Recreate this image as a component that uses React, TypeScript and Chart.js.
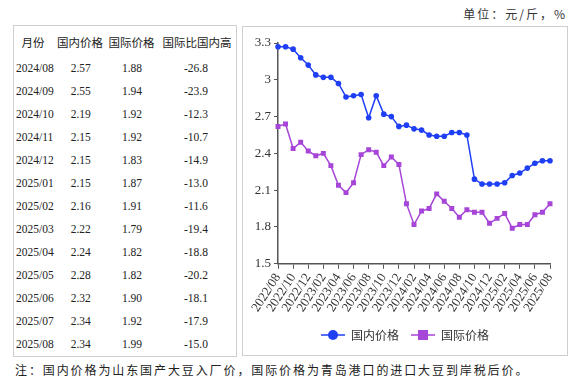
import React, { useEffect, useRef } from 'react';
import { Chart, registerables } from 'chart.js';
Chart.register(...registerables);

const months = [
  '2022/08', '2022/09', '2022/10', '2022/11', '2022/12',
  '2023/01', '2023/02', '2023/03', '2023/04', '2023/05', '2023/06', '2023/07', '2023/08', '2023/09', '2023/10', '2023/11', '2023/12',
  '2024/01', '2024/02', '2024/03', '2024/04', '2024/05', '2024/06', '2024/07', '2024/08', '2024/09', '2024/10', '2024/11', '2024/12',
  '2025/01', '2025/02', '2025/03', '2025/04', '2025/05', '2025/06', '2025/07', '2025/08',
];
const domestic = [3.27, 3.27, 3.25, 3.18, 3.12, 3.04, 3.02, 3.02, 2.97, 2.86, 2.87, 2.88, 2.69, 2.87, 2.72, 2.70, 2.62, 2.63, 2.60, 2.59, 2.55, 2.54, 2.54, 2.57, 2.57, 2.55, 2.19, 2.15, 2.15, 2.15, 2.16, 2.22, 2.24, 2.28, 2.32, 2.34, 2.34];
const international = [2.62, 2.64, 2.44, 2.49, 2.42, 2.38, 2.40, 2.30, 2.14, 2.08, 2.16, 2.39, 2.43, 2.41, 2.30, 2.37, 2.31, 1.99, 1.82, 1.93, 1.95, 2.07, 2.01, 1.95, 1.88, 1.94, 1.92, 1.92, 1.83, 1.87, 1.91, 1.79, 1.82, 1.82, 1.90, 1.92, 1.99];
const seriesNames = ['国内价格', '国际价格'];

const tableHeaders = ['月份', '国内价格', '国际价格', '国际比国内高'];
const tableMonths = ['2024/08', '2024/09', '2024/10', '2024/11', '2024/12', '2025/01', '2025/02', '2025/03', '2025/04', '2025/05', '2025/06', '2025/07', '2025/08'];
const tableDomestic = ['2.57', '2.55', '2.19', '2.15', '2.15', '2.15', '2.16', '2.22', '2.24', '2.28', '2.32', '2.34', '2.34'];
const tableIntl = ['1.88', '1.94', '1.92', '1.92', '1.83', '1.87', '1.91', '1.79', '1.82', '1.82', '1.90', '1.92', '1.99'];
const tableDiff = ['-26.8', '-23.9', '-12.3', '-10.7', '-14.9', '-13.0', '-11.6', '-19.4', '-18.8', '-20.2', '-18.1', '-17.9', '-15.0'];

const unitText = '单位：元/斤，%';
const noteText = '注：国内价格为山东国产大豆入厂价，国际价格为青岛港口的进口大豆到岸税后价。';

const BLUE = '#1f3ff5';
const PURPLE = '#a645d8';
const SERIF = "'Liberation Serif', 'Times New Roman', serif";
const CJK = "'Noto Sans CJK SC', sans-serif";

function makeLegendIcon(color: string, shape: 'circle' | 'rect') {
  const c = document.createElement('canvas');
  c.width = 24;
  c.height = 12;
  const ctx = c.getContext('2d')!;
  ctx.strokeStyle = color;
  ctx.lineWidth = 1.5;
  ctx.beginPath();
  ctx.moveTo(0, 6);
  ctx.lineTo(24, 6);
  ctx.stroke();
  ctx.fillStyle = color;
  if (shape === 'circle') {
    ctx.beginPath();
    ctx.arc(12, 6, 5, 0, Math.PI * 2);
    ctx.fill();
  } else {
    ctx.fillRect(7, 1, 10, 10);
  }
  return c;
}

function LineChart() {
  const ref = useRef<HTMLCanvasElement | null>(null);
  useEffect(() => {
    if (!ref.current) return;
    const icons = [makeLegendIcon(BLUE, 'circle'), makeLegendIcon(PURPLE, 'rect')];
    const chart = new Chart(ref.current, {
      type: 'line',
      data: {
        labels: months,
        datasets: [
          {
            label: seriesNames[0],
            data: domestic,
            borderColor: BLUE,
            backgroundColor: BLUE,
            borderWidth: 1.5,
            pointStyle: 'circle',
            pointRadius: 2.8,
            pointBorderWidth: 0,
            tension: 0,
          },
          {
            label: seriesNames[1],
            data: international,
            borderColor: PURPLE,
            backgroundColor: PURPLE,
            borderWidth: 1.5,
            pointStyle: 'rect',
            pointRadius: 3.5,
            pointBorderWidth: 0,
            tension: 0,
          },
        ],
      },
      options: {
        animation: false,
        responsive: false,
        maintainAspectRatio: false,
        layout: { padding: { top: 16, left: 0, right: 0, bottom: 4 } },
        plugins: {
          tooltip: { enabled: false },
          legend: {
            position: 'bottom',
            labels: {
              usePointStyle: true,
              pointStyleWidth: 24,
              padding: 12,
              color: '#333',
              font: { family: CJK, size: 12 },
              generateLabels: (ch: any) => {
                const items = Chart.defaults.plugins.legend.labels.generateLabels(ch);
                return items.map((it: any, i: number) => ({ ...it, pointStyle: icons[i] }));
              },
            },
          },
        },
        scales: {
          x: {
            type: 'category',
            offset: false,
            grid: { display: true, drawOnChartArea: false, drawTicks: true, tickLength: 5, color: '#555', lineWidth: 1 },
            border: { display: true, color: '#555', width: 1.5 },
            ticks: {
              autoSkip: false,
              minRotation: 57,
              maxRotation: 57,
              padding: 2,
              color: '#333',
              font: { family: SERIF, size: 13 },
              callback: function (this: any, val: any, idx: number) {
                return idx % 2 === 0 ? this.getLabelForValue(val) : null;
              },
            },
            afterFit: (s: any) => {
              s.paddingRight = 17;
            },
          },
          y: {
            min: 1.5,
            max: 3.3,
            grid: { display: true, drawOnChartArea: false, drawTicks: true, tickLength: 4, color: '#555' },
            border: { display: true, color: '#555', width: 1.5 },
            ticks: {
              stepSize: 0.3,
              padding: 3,
              color: '#333',
              font: { family: SERIF, size: 13 },
              callback: (v: any) => String(Math.round(Number(v) * 10) / 10),
            },
            afterFit: (s: any) => {
              s.width = 35;
            },
          },
        },
      },
    });
    return () => chart.destroy();
  }, []);
  return <canvas ref={ref} width={324} height={328} style={{ width: 324, height: 328, display: 'block' }} />;
}

export default function App() {
  const rowY = (k: number) => 67.7 + 23 * k;
  const cellStyle = (cx: number, cy: number, font: string, size: number, align: 'center' | 'left'): React.CSSProperties => ({
    position: 'absolute',
    left: align === 'center' ? cx - 50 : cx,
    width: align === 'center' ? 100 : undefined,
    top: cy - 10,
    height: 20,
    lineHeight: '20px',
    textAlign: align,
    fontFamily: font,
    fontSize: size,
    color: '#222',
    whiteSpace: 'nowrap',
  });
  const colCenters = [80.7, 132, 196];
  const headerCenters = [33, 80, 131.5, 197];
  return (
    <div style={{ position: 'fixed', left: 0, top: 0, width: 581, height: 380, background: '#fff', overflow: 'hidden' }}>
      <div style={{ position: 'absolute', right: 14, top: 4, height: 20, lineHeight: '20px', fontFamily: CJK, fontSize: 12, letterSpacing: 2, color: '#333', whiteSpace: 'nowrap' }}>{unitText}</div>
      <div style={{ position: 'absolute', left: 13, top: 25, width: 222, height: 330, border: '1px solid #cfcfcf' }} />
      {tableHeaders.map((h, i) => (
        <div key={'h' + i} style={cellStyle(headerCenters[i], 41.7, CJK, 11.5, 'center')}>{h}</div>
      ))}
      {tableMonths.map((m, k) => (
        <React.Fragment key={m}>
          <div style={cellStyle(16, rowY(k), SERIF, 11.5, 'left')}>{m}</div>
          <div style={cellStyle(colCenters[0], rowY(k), SERIF, 11.5, 'center')}>{tableDomestic[k]}</div>
          <div style={cellStyle(colCenters[1], rowY(k), SERIF, 11.5, 'center')}>{tableIntl[k]}</div>
          <div style={cellStyle(colCenters[2], rowY(k), SERIF, 11.5, 'center')}>{tableDiff[k]}</div>
        </React.Fragment>
      ))}
      <div style={{ position: 'absolute', left: 242, top: 26, width: 324, height: 328, border: '1px solid #cfcfcf' }}>
        <LineChart />
      </div>
      <div style={{ position: 'absolute', left: 15, top: 360, height: 20, lineHeight: '20px', fontFamily: CJK, fontSize: 12, letterSpacing: 1.9, color: '#222', whiteSpace: 'nowrap' }}>{noteText}</div>
    </div>
  );
}
